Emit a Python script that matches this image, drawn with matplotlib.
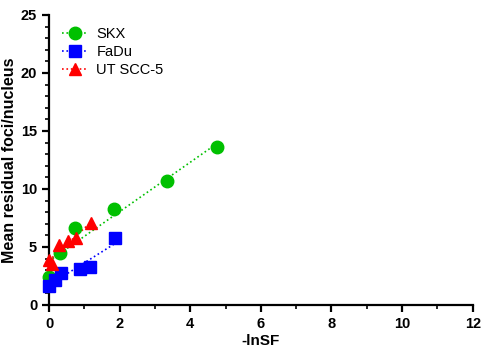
import numpy as np
import matplotlib.pyplot as plt
from matplotlib.ticker import MultipleLocator

plt.rcParams['font.family'] = ['Liberation Sans', 'DejaVu Sans']

# -lnSF vs mean residual foci per nucleus
skx_x = [0.0, 0.31, 0.74, 1.85, 3.33, 4.77]
skx_y = [2.4, 4.5, 6.6, 8.3, 10.7, 13.65]
fadu_x = [0.0, 0.17, 0.34, 0.88, 1.16, 1.87]
fadu_y = [1.67, 2.15, 2.8, 3.1, 3.3, 5.75]
ut_x = [0.0, 0.08, 0.27, 0.55, 0.77, 1.19]
ut_y = [3.9, 3.5, 5.15, 5.5, 5.8, 7.1]

series = [
    ("SKX", skx_x, skx_y, "#00c000", "o", 9),
    ("FaDu", fadu_x, fadu_y, "#0000ff", "s", 8),
    ("UT SCC-5", ut_x, ut_y, "#ff0000", "^", 9),
]

fig = plt.figure(figsize=(4.82, 3.5), dpi=100)
ax = fig.add_axes([0.1017, 0.1286, 0.879, 0.8286])

handles = []
for name, xs, ys, col, mk, ms in series:
    xs = np.array(xs)
    ys = np.array(ys)
    # linear fit drawn over the data range
    k, b = np.polyfit(xs, ys, 1)
    xf = np.array([xs.min(), xs.max()])
    ax.plot(xf, k * xf + b, ':', color=col, lw=1.2, zorder=2)
    ax.plot(xs, ys, mk, color=col, ms=ms, mec=col, zorder=3, clip_on=False)
    h, = ax.plot([], [], linestyle=':', color=col, marker=mk, ms=ms, lw=1.2)
    handles.append(h)

ax.legend(handles, [s[0] for s in series], loc='upper left',
          bbox_to_anchor=(0.0, 1.005), frameon=False, fontsize=10.5,
          handlelength=1.7, handletextpad=0.65, labelspacing=0.3)

ax.set_xlim(0, 12)
ax.set_ylim(0, 25)
ax.xaxis.set_major_locator(MultipleLocator(2))
ax.xaxis.set_minor_locator(MultipleLocator(1))
ax.yaxis.set_major_locator(MultipleLocator(5))
ax.yaxis.set_minor_locator(MultipleLocator(1))

for sp in ['top', 'right']:
    ax.spines[sp].set_visible(False)
for sp in ['left', 'bottom']:
    ax.spines[sp].set_linewidth(1.6)
ax.tick_params(which='major', direction='out', length=5, width=1.6,
               labelsize=10.5)
ax.tick_params(which='minor', direction='out', length=3, width=1.2)
for lab in ax.get_xticklabels() + ax.get_yticklabels():
    lab.set_fontweight('bold')

ax.set_xlabel('-lnSF', fontsize=11, fontweight='bold', labelpad=2)
ax.set_ylabel('Mean residual foci/nucleus', fontsize=11.5, fontweight='bold',
              labelpad=3)

fig.savefig('out.png', dpi=100)
